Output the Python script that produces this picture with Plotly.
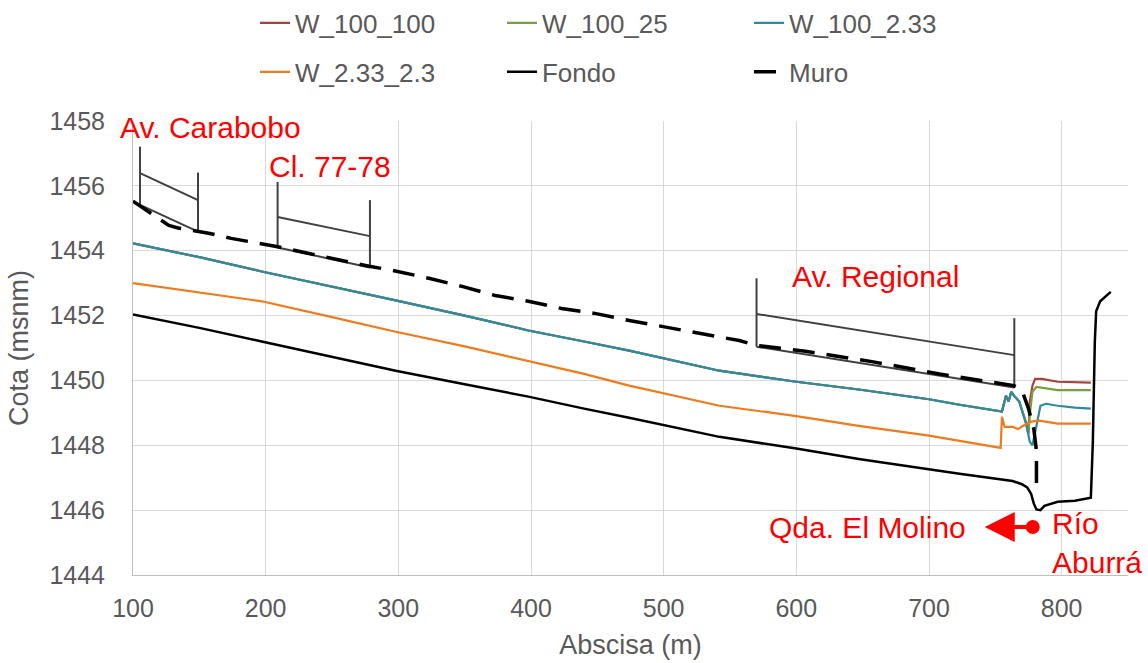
import plotly.graph_objects as go

# ---------------- data ----------------
fondo_x = [100, 150, 197, 250, 298, 350, 398, 440, 474, 542, 600, 647, 700, 723, 763, 770,
           774, 777, 779, 781, 784, 787, 797, 810, 822, 823.5, 825, 826, 829, 837]
fondo_y = [1452.03, 1451.62, 1451.2, 1450.73, 1450.3, 1449.88, 1449.5, 1449.13, 1448.85,
           1448.26, 1447.9, 1447.58, 1447.25, 1447.12, 1446.9, 1446.8, 1446.7, 1446.5,
           1446.2, 1446.02, 1446.0, 1446.13, 1446.26, 1446.29, 1446.38, 1448.1, 1451.2,
           1452.13, 1452.44, 1452.73]

# common upstream part of the three W_100 profiles
w100_x = [100, 150, 197, 250, 298, 350, 398, 440, 474, 542, 600, 647, 700, 723, 755,
          758, 760, 762, 764, 768, 773]
w100_y = [1454.23, 1453.8, 1453.36, 1452.9, 1452.47, 1452.0, 1451.54, 1451.2, 1450.92,
          1450.3, 1449.96, 1449.72, 1449.42, 1449.25, 1449.04, 1449.53, 1449.35, 1449.65,
          1449.53, 1449.35, 1448.7]

w100_100_tail_x = [775, 776, 778, 780, 785, 797, 822]
w100_100_tail_y = [1448.35, 1449.35, 1449.84, 1450.05, 1450.05, 1449.96, 1449.93]

w100_25_tail_x = [775, 776.5, 778, 781, 788, 797, 822]
w100_25_tail_y = [1448.45, 1449.13, 1449.65, 1449.8, 1449.75, 1449.7, 1449.7]

w100_233_tail_x = [776, 778, 781, 784, 788, 797, 810, 822]
w100_233_tail_y = [1448.1, 1448.0, 1448.6, 1449.22, 1449.28, 1449.22, 1449.16, 1449.13]

w233_x = [100, 150, 197, 250, 298, 350, 398, 440, 474, 542, 600, 647, 700, 723, 754,
          755, 757, 763, 767, 771, 777, 783, 788, 797, 822]
w233_y = [1453.0, 1452.72, 1452.44, 1451.95, 1451.5, 1451.05, 1450.6, 1450.2, 1449.84,
          1449.22, 1448.9, 1448.6, 1448.3, 1448.14, 1447.92, 1448.88, 1448.57, 1448.57,
          1448.5, 1448.6, 1448.73, 1448.76, 1448.73, 1448.67, 1448.67]

muro_x = [100, 112, 121, 127, 134, 148, 157, 174, 192, 207, 278, 295, 323, 348, 373, 398,
          423, 449, 474, 507, 557, 570, 607, 657, 708, 764, 770, 775, 779, 781, 781]
muro_y = [1455.53, 1455.2, 1454.94, 1454.78, 1454.7, 1454.6, 1454.54, 1454.38, 1454.25,
          1454.14, 1453.52, 1453.4, 1453.15, 1452.9, 1452.62, 1452.44, 1452.22, 1452.06,
          1451.85, 1451.6, 1451.23, 1451.08, 1450.9, 1450.58, 1450.2, 1449.84, 1449.7,
          1449.13, 1448.5, 1447.83, 1446.7]

# bridges (Av. Carabobo, Cl. 77-78, Av. Regional)
bridge_names = ["Av. Carabobo", "Cl. 77-78", "Av. Regional"]
bridge_x_left = [105.3, 209, 570]
bridge_x_right = [149, 278.6, 764.3]
bridge_left_top = [1457.21, 1456.12, 1453.15]
bridge_left_bottom = [1455.41, 1454.1, 1451.04]
bridge_deck_left = [1456.39, 1455.04, 1452.05]
bridge_deck_right = [1455.56, 1454.45, 1450.78]
bridge_right_top = [1456.41, 1455.56, 1451.92]
bridge_right_bottom = [1454.59, 1453.48, 1449.78]
bridge_low_x0 = [100, 209, 570]
bridge_low_y0 = [1455.51, 1454.1, 1451.04]

# labels
label_text = ["Av. Carabobo", "Cl. 77-78", "Av. Regional"]
label_x = [100, 201, 595.1]
label_xshift = [-15, 0, 0]
label_y = [1457.81, 1456.61, 1453.19]

molino_x, molino_y = 729.5, 1445.46
rio_x, rio_y, aburra_y = 791, 1445.6, 1444.4
arrow_head_x, arrow_tail_x, arrow_y = 742, 778.2, 1445.48

x_ticks = [100, 200, 300, 400, 500, 600, 700, 800]
y_ticks = [1444, 1446, 1448, 1450, 1452, 1454, 1456, 1458]

# ---------------- figure ----------------
FONT = "Liberation Sans, Arial, sans-serif"
GRAY = "#595959"
RED = "#FF0000"

bx, by = [], []
for i in range(len(bridge_names)):
    xl, xr = bridge_x_left[i], bridge_x_right[i]
    bx += [xl, xl, None, xl, xr, None, xr, xr, None, bridge_low_x0[i], xr, None]
    by += [bridge_left_top[i], bridge_left_bottom[i], None,
           bridge_deck_left[i], bridge_deck_right[i], None,
           bridge_right_top[i], bridge_right_bottom[i], None,
           bridge_low_y0[i], bridge_right_bottom[i], None]

fig = go.Figure()
fig.add_trace(go.Scatter(x=bx, y=by, mode="lines", line=dict(color="#404040", width=2),
                         showlegend=False, hoverinfo="skip"))
fig.add_trace(go.Scatter(x=w100_x + w100_100_tail_x, y=w100_y + w100_100_tail_y, mode="lines",
                         name="W_100_100", line=dict(color="#A8423D", width=2.2), legend="legend"))
fig.add_trace(go.Scatter(x=w100_x + w100_25_tail_x, y=w100_y + w100_25_tail_y, mode="lines",
                         name="W_100_25", line=dict(color="#7A9E3B", width=2.2), legend="legend"))
fig.add_trace(go.Scatter(x=w100_x + w100_233_tail_x, y=w100_y + w100_233_tail_y, mode="lines",
                         name="W_100_2.33", line=dict(color="#2E8AA3", width=2.2), legend="legend"))
fig.add_trace(go.Scatter(x=w233_x, y=w233_y, mode="lines", name="W_2.33_2.3",
                         line=dict(color="#F07A1C", width=2.2), legend="legend2"))
fig.add_trace(go.Scatter(x=fondo_x, y=fondo_y, mode="lines", name="Fondo",
                         line=dict(color="#000000", width=2.5), legend="legend2"))
fig.add_trace(go.Scatter(x=muro_x, y=muro_y, mode="lines", name="Muro",
                         line=dict(color="#000000", width=3.5, dash="22px,12px"), legend="legend2"))
fig.add_trace(go.Scatter(x=[arrow_tail_x], y=[arrow_y], mode="markers",
                         marker=dict(color=RED, size=14), showlegend=False, hoverinfo="skip"))

ann = []
for t, x, xs, y in zip(label_text, label_x, label_xshift, label_y):
    ann.append(dict(x=x, y=y, text=t, xanchor="left", yanchor="middle", showarrow=False,
                    xshift=xs, font=dict(size=30, color=RED, family=FONT)))
ann.append(dict(x=molino_x, y=molino_y, text="Qda. El Molino", xanchor="right", yanchor="middle",
                showarrow=False, font=dict(size=30, color=RED, family=FONT)))
ann.append(dict(x=rio_x, y=rio_y, text="Río", xanchor="left", yanchor="middle",
                showarrow=False, font=dict(size=30, color=RED, family=FONT)))
ann.append(dict(x=rio_x, y=aburra_y, text="Aburrá", xanchor="left", yanchor="middle",
                showarrow=False, font=dict(size=30, color=RED, family=FONT)))
ann.append(dict(x=arrow_head_x, y=arrow_y, ax=arrow_tail_x, ay=arrow_y, axref="x", ayref="y",
                text="", showarrow=True, arrowhead=2, arrowsize=1.5, arrowwidth=4,
                arrowcolor=RED))

legend_common = dict(orientation="h", xanchor="left", yanchor="middle", entrywidth=202,
                     entrywidthmode="pixels", font=dict(size=26, color=GRAY, family=FONT),
                     bgcolor="rgba(0,0,0,0)", borderwidth=0)

fig.update_layout(
    width=1148, height=663,
    margin=dict(l=133, r=20, t=121, b=88, autoexpand=False),
    paper_bgcolor="white", plot_bgcolor="white",
    font=dict(family=FONT, color=GRAY),
    legend=dict(x=0.1226, y=1.2159, **legend_common),
    legend2=dict(x=0.1226, y=1.108, **legend_common),
    annotations=ann,
    xaxis=dict(range=[100, 850], tickvals=x_ticks, showgrid=True, gridcolor="#D9D9D9",
               gridwidth=1, showline=True, linecolor="#BFBFBF", linewidth=1, zeroline=False,
               ticks="", ticklabelstandoff=11, tickfont=dict(size=25, color=GRAY, family=FONT),
               title=dict(text="Abscisa (m)", font=dict(size=27, color=GRAY, family=FONT),
                          standoff=14)),
    yaxis=dict(range=[1444, 1458], tickvals=y_ticks, showgrid=True, gridcolor="#D9D9D9",
               gridwidth=1, showline=True, linecolor="#BFBFBF", linewidth=1, zeroline=False,
               ticks="", ticklabelstandoff=22, tickfont=dict(size=25, color=GRAY, family=FONT),
               title=dict(text="Cota (msnm)", font=dict(size=27, color=GRAY, family=FONT),
                          standoff=12)),
)

fig.write_html("out.html")
